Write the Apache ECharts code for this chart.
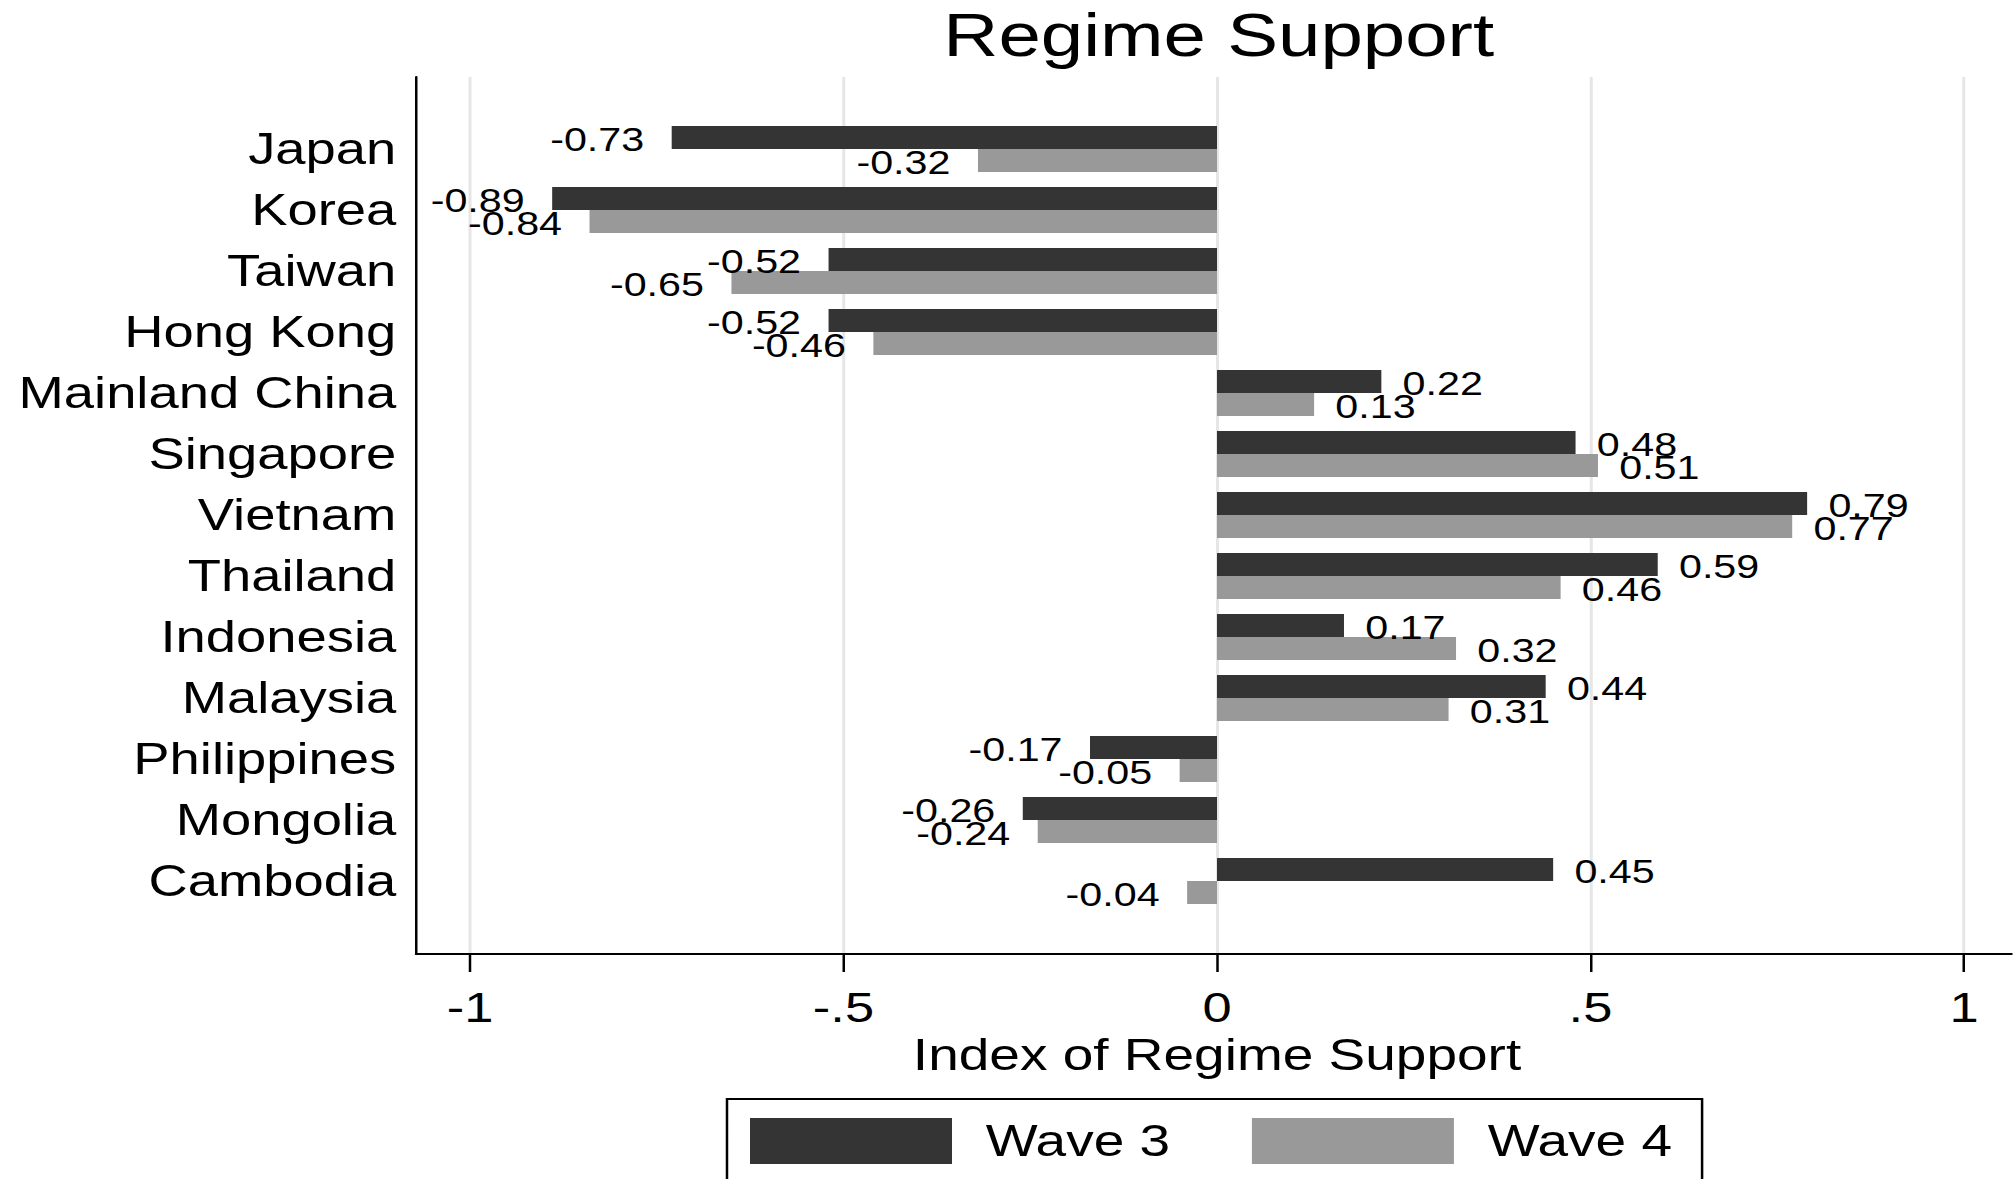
<!DOCTYPE html>
<html>
<head>
<meta charset="utf-8">
<script src="https://cdn.jsdelivr.net/npm/echarts@6/dist/echarts.min.js"></script>
<style>
  html, body { margin: 0; padding: 0; background: #fff; overflow: hidden }
  /* the source figure is stretched sideways, so draw narrower and widen */
  #chart { width: 1610px; height: 1179px; transform: scaleX(1.25); transform-origin: 0 0 }
</style>
</head>
<body>
<div id="chart"></div>
<script>
const countries = ['Japan', 'Korea', 'Taiwan', 'Hong Kong', 'Mainland China', 'Singapore', 'Vietnam',
  'Thailand', 'Indonesia', 'Malaysia', 'Philippines', 'Mongolia', 'Cambodia']
const wave3 = [-0.73, -0.89, -0.52, -0.52, 0.22, 0.48, 0.79, 0.59, 0.17, 0.44, -0.17, -0.26, 0.45]
const wave4 = [-0.32, -0.84, -0.65, -0.46, 0.13, 0.51, 0.77, 0.46, 0.32, 0.31, -0.05, -0.24, -0.04]
const xTickLabels = ['-1', '-.5', '0', '.5', '1']

const font = 'Liberation Sans, Arial, Helvetica, sans-serif'

// value labels sit outside the bar end, on whichever side it points
function withLabels(vals) {
  return vals.map(v => ({
    value: v,
    label: { position: v < 0 ? 'left' : 'right', distance: v < 0 ? 22 : 17 }
  }))
}

const chart = echarts.init(document.getElementById('chart'), null, { renderer: 'svg' })
chart.setOption({
  animation: false,
  title: {
    text: 'Regime Support', left: 975, top: 4, padding: 0, textAlign: 'center',
    textStyle: { fontFamily: font, fontSize: 61, fontWeight: 'normal', color: '#000' }
  },
  legend: {
    data: ['Wave 3', 'Wave 4'],
    left: 581.6, top: 1099, orient: 'horizontal',
    icon: 'rect', itemWidth: 161.6, itemHeight: 46, itemGap: 65.4,
    borderColor: '#000', borderWidth: 2, padding: [19, 24, 40, 18.4],
    textStyle: { fontFamily: font, fontSize: 44, color: '#000', padding: [0, 0, 0, 22] }
  },
  grid: [
    { left: 332.8, right: 0, top: 77, bottom: 225 },        // axis frame
    { left: 376, width: 1195.2, top: 77, bottom: 225 },     // ticks and grid lines
    { left: 376, width: 1195.2, top: 118.5, bottom: 267.5 } // bars
  ],
  xAxis: [
    {
      gridIndex: 0, type: 'value', min: 0, max: 1,
      axisLine: { show: true, onZero: false, lineStyle: { color: '#000', width: 2 } },
      axisTick: { show: false }, axisLabel: { show: false }, splitLine: { show: false }
    },
    {
      gridIndex: 1, type: 'value', min: -1, max: 1, interval: 0.5,
      axisLine: { show: false },
      axisTick: { show: true, length: 18, lineStyle: { color: '#000', width: 2 } },
      axisLabel: {
        margin: 32, fontFamily: font, fontSize: 42, color: '#000',
        formatter: (v, i) => xTickLabels[i]
      },
      splitLine: { show: true, lineStyle: { color: '#e6e6e6', width: 2.4 } },
      name: 'Index of Regime Support', nameLocation: 'middle', nameGap: 73,
      nameTextStyle: { fontFamily: font, fontSize: 44, color: '#000' }
    },
    { gridIndex: 2, type: 'value', min: -1, max: 1, show: false }
  ],
  yAxis: [
    {
      gridIndex: 0, type: 'value', min: 0, max: 1,
      axisLine: { show: true, onZero: false, lineStyle: { color: '#000', width: 2 } },
      axisTick: { show: false }, axisLabel: { show: false }, splitLine: { show: false }
    },
    { gridIndex: 1, type: 'value', show: false },
    {
      gridIndex: 2, type: 'category', data: countries, inverse: true,
      axisLine: { show: false }, axisTick: { show: false },
      axisLabel: { margin: 59, padding: [5, 0, 0, 0], fontFamily: font, fontSize: 43.5, color: '#000' }
    }
  ],
  series: [
    {
      name: 'Wave 3', type: 'bar', xAxisIndex: 2, yAxisIndex: 2,
      data: withLabels(wave3), barWidth: 23, barGap: '0%',
      itemStyle: { color: '#343434' },
      label: { show: true, offset: [0, 2], fontFamily: font, fontSize: 33, color: '#000',
        formatter: p => p.value.toFixed(2) }
    },
    {
      name: 'Wave 4', type: 'bar', xAxisIndex: 2, yAxisIndex: 2,
      data: withLabels(wave4), barWidth: 23, barGap: '0%',
      itemStyle: { color: '#999999' },
      label: { show: true, offset: [0, 2], fontFamily: font, fontSize: 33, color: '#000',
        formatter: p => p.value.toFixed(2) }
    }
  ]
})
</script>
</body>
</html>
